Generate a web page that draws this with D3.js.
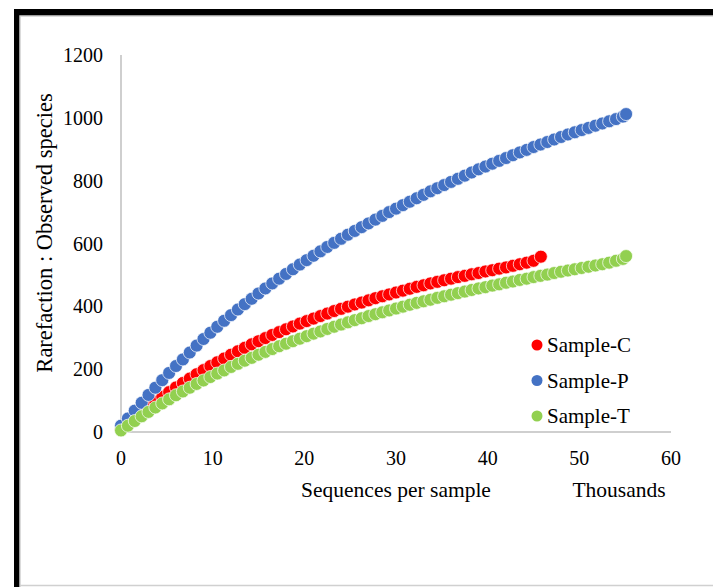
<!DOCTYPE html>
<html>
<head>
<meta charset="utf-8">
<script src="https://cdn.jsdelivr.net/npm/d3@7"></script>
<style>
  body { margin: 0; background: #fff; }
  svg text { font-family: "Liberation Serif", "Times New Roman", serif; fill: #000; }
</style>
</head>
<body>
<div id="chart"></div>
<script>
// sequencing depth (thousands) and observed species per sample
const depthC = [0,0.75,1.5,2.25,3,3.75,4.5,5.25,6,6.75,7.5,8.25,9,9.75,10.5,11.25,12,12.75,13.5,14.25,
  15,15.75,16.5,17.25,18,18.75,19.5,20.25,21,21.75,22.5,23.25,24,24.75,25.5,26.25,27,27.75,28.5,29.25,
  30,30.75,31.5,32.25,33,33.75,34.5,35.25,36,36.75,37.5,38.25,39,39.75,40.5,41.25,42,42.75,43.5,44.25,45,45.8];
const sampleC = [8,26,44,62,79,96,112,127,142,156,170,184,197,210,222,234,246,257,268,279,
  289,299,309,318,327,336,345,353,361,369,377,385,392,399,406,412,419,426,432,438,
  444,450,456,462,467,473,478,483,488,493,497,502,506,511,515,520,524,529,534,539,545,558];

const depthPT = [0,0.75,1.5,2.25,3,3.75,4.5,5.25,6,6.75,7.5,8.25,9,9.75,10.5,11.25,12,12.75,13.5,14.25,
  15,15.75,16.5,17.25,18,18.75,19.5,20.25,21,21.75,22.5,23.25,24,24.75,25.5,26.25,27,27.75,28.5,29.25,
  30,30.75,31.5,32.25,33,33.75,34.5,35.25,36,36.75,37.5,38.25,39,39.75,40.5,41.25,42,42.75,43.5,44.25,
  45,45.75,46.5,47.25,48,48.75,49.5,50.25,51,51.75,52.5,53.25,54,54.75,55.1];
const sampleP = [20,43,68,93,118,141,165,188,210,231,253,275,296,316,335,354,372,390,407,424,
  441,457,473,488,503,518,533,547,561,575,589,602,615,628,640,652,664,676,688,700,
  711,722,733,744,755,766,776,786,796,806,816,826,836,845,854,863,872,881,890,898,
  907,915,923,931,939,947,954,961,968,975,982,989,996,1004,1012];
const sampleT = [5,20,35,50,64,78,91,104,117,129,141,153,164,175,186,196,207,217,227,236,
  246,255,264,273,281,289,297,305,313,320,328,335,342,349,356,362,369,375,381,387,
  393,399,405,411,416,421,427,432,437,442,447,452,457,461,466,470,475,479,484,488,
  493,497,501,506,510,514,518,522,526,530,534,539,545,551,560];

const seriesNames = ["Sample-C", "Sample-P", "Sample-T"];
const seriesColors = ["#ff0000", "#4472c4", "#92d050"];
const xTicks = [0, 10, 20, 30, 40, 50, 60];
const yTicks = [0, 200, 400, 600, 800, 1000, 1200];

const series = [
  { name: seriesNames[0], color: seriesColors[0], x: depthC, y: sampleC },
  { name: seriesNames[1], color: seriesColors[1], x: depthPT, y: sampleP },
  { name: seriesNames[2], color: seriesColors[2], x: depthPT, y: sampleT }
];

const W = 713, H = 587;
const svg = d3.select("#chart").append("svg").attr("width", W).attr("height", H);

// outer frame: thick black top/left, thin grey inside
svg.append("rect").attr("x", 14).attr("y", 9).attr("width", W).attr("height", H).attr("fill", "#000");
svg.append("rect").attr("x", 20).attr("y", 16).attr("width", W).attr("height", H).attr("fill", "#fff")
  .attr("stroke", "#d0d0d0").attr("stroke-width", 1.5);
svg.append("line").attr("x1", 20).attr("x2", W).attr("y1", 585.5).attr("y2", 585.5)
  .attr("stroke", "#d0d0d0").attr("stroke-width", 1.5);

const x = d3.scaleLinear().domain([0, 60]).range([121, 671]);
const y = d3.scaleLinear().domain([0, 1200]).range([432, 55]);

// axes
svg.append("line").attr("x1", x(0)).attr("x2", x(0)).attr("y1", y(1200)).attr("y2", y(0))
  .attr("stroke", "#bfbfbf").attr("stroke-width", 1.5);
svg.append("line").attr("x1", x(0)).attr("x2", x(60)).attr("y1", y(0)).attr("y2", y(0))
  .attr("stroke", "#bfbfbf").attr("stroke-width", 1.5);

svg.append("g").selectAll("text").data(yTicks).enter().append("text")
  .attr("x", 103).attr("y", d => y(d)).attr("dy", "0.35em")
  .attr("text-anchor", "end").attr("font-size", "20px")
  .text(d => d);

svg.append("g").selectAll("text").data(xTicks).enter().append("text")
  .attr("x", d => x(d)).attr("y", 465)
  .attr("text-anchor", "middle").attr("font-size", "20px")
  .text(d => d);

svg.append("text").attr("x", 396).attr("y", 497).attr("text-anchor", "middle")
  .attr("font-size", "21.5px").text("Sequences per sample");
svg.append("text").attr("x", 619).attr("y", 497).attr("text-anchor", "middle")
  .attr("font-size", "21.5px").text("Thousands");
svg.append("text").attr("transform", "translate(52,233) rotate(-90)").attr("text-anchor", "middle")
  .attr("font-size", "22.5px").text("Rarefaction : Observed species");

// markers
series.forEach(s => {
  svg.append("g").selectAll("circle")
    .data(s.x.map((d, i) => [d, s.y[i]]))
    .enter().append("circle")
    .attr("cx", d => x(d[0]))
    .attr("cy", d => y(d[1]))
    .attr("r", 6.5)
    .attr("fill", s.color)
    .attr("stroke", "#fff")
    .attr("stroke-opacity", 0.7)
    .attr("stroke-width", 1);
});

// legend
const legend = svg.append("g").selectAll("g").data(series).enter().append("g")
  .attr("transform", (d, i) => `translate(537,${345 + i * 35.5})`);
legend.append("circle").attr("r", 5.5).attr("fill", d => d.color);
legend.append("text").attr("x", 10).attr("dy", "0.35em").attr("font-size", "21px").text(d => d.name);
</script>
</body>
</html>
